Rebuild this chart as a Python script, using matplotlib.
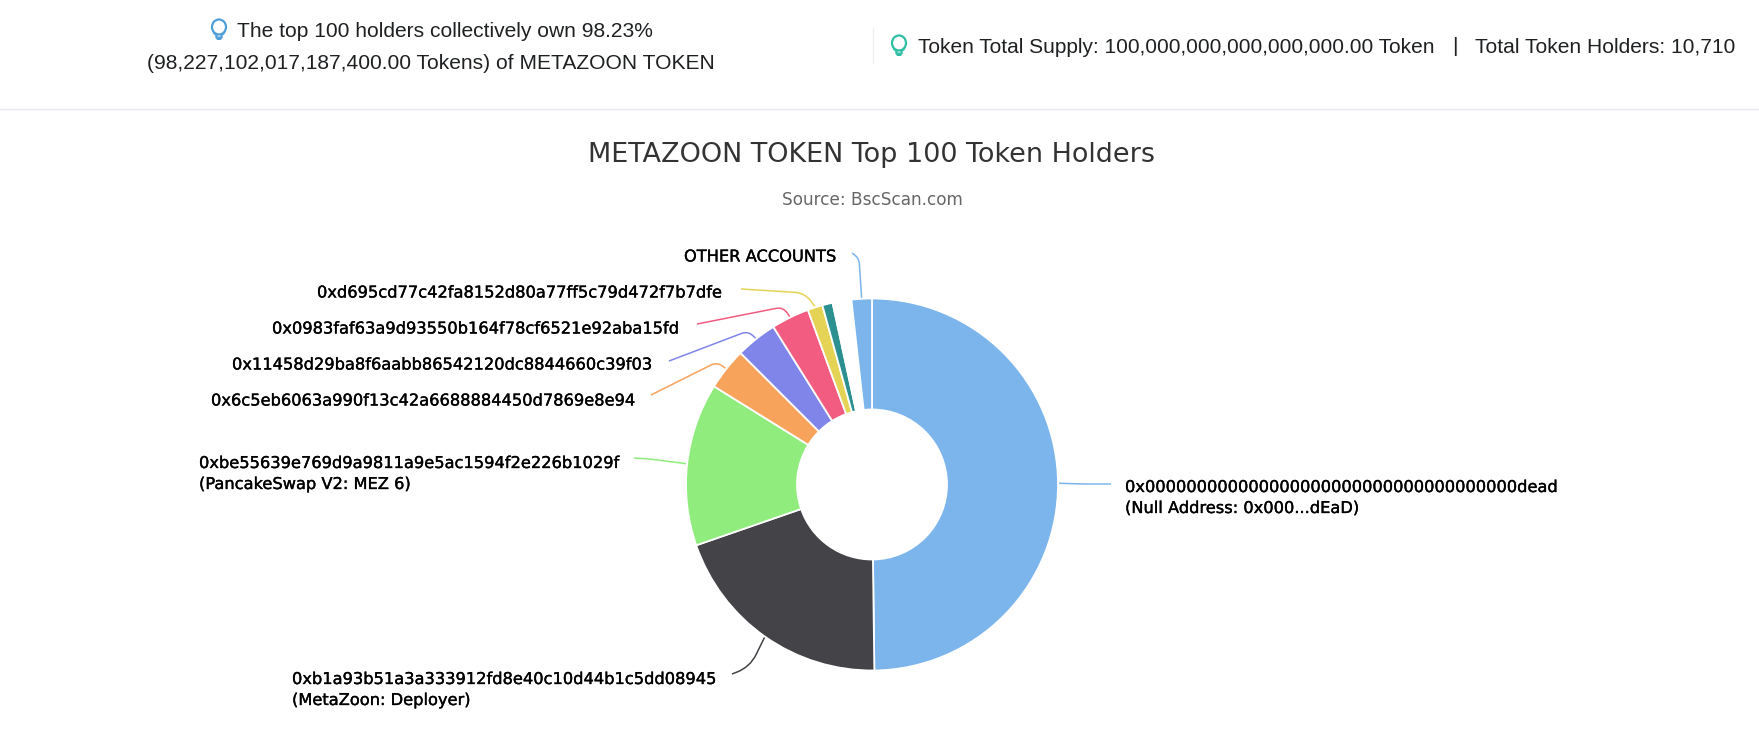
import matplotlib
matplotlib.use('Agg')
import matplotlib.pyplot as plt
import matplotlib.patheffects as pe
from matplotlib.patches import Ellipse, PathPatch, Polygon
from matplotlib.path import Path
import numpy as np

# data
holders = ['0x000000000000000000000000000000000000dead\n(Null Address: 0x000...dEaD)',
           '0xb1a93b51a3a333912fd8e40c10d44b1c5dd08945\n(MetaZoon: Deployer)',
           '0xbe55639e769d9a9811a9e5ac1594f2e226b1029f\n(PancakeSwap V2: MEZ 6)',
           '0x6c5eb6063a990f13c42a6688884450d7869e8e94',
           '0x11458d29ba8f6aabb86542120dc8844660c39f03',
           '0x0983faf63a9d93550b164f78cf6521e92aba15fd',
           '0xd695cd77c42fa8152d80a77ff5c79d472f7b7dfe',
           '', '', '',
           'OTHER ACCOUNTS']
shares = [49.8, 19.9, 14.15, 3.65, 3.6, 3.3, 1.3, 0.9, 0.12, 1.51, 1.77]
colors = ['#7cb5ec', '#434348', '#90ed7d', '#f7a35c', '#8085e9', '#f15c80',
          '#e4d354', '#2b908f', '#f45b5b', '#ffffff', '#7cb5ec']

W, H = 1759, 729
CX, CY, R, R_IN = 872, 484.5, 186, 75

# label placement in pixels: x, y centre, leader end, leader elbow, corner size
label_pos = {0: (1125, 498, (1111, 484), (1085, 484), 5),
             1: (292, 690, (732, 674), (750, 667), 14),
             2: (199, 474, (634, 458), (650, 459), 5),
             3: (211, 401, (651, 395), (717, 362), 7),
             4: (232, 365, (669, 361), (748, 331), 7),
             5: (272, 329, (697, 324), (783, 307), 7),
             6: (317, 293, (741, 289), (805, 293), 10),
             10: (684, 257, (852, 253), (859, 258), 6)}


def py(y):
    return H - y


def leader(start, elbow, end, color, corner):
    # straight run, rounded corner, straight run like the highcharts connector
    s, e, t = [np.array([p[0], py(p[1])], float) for p in (start, elbow, end)]
    a = e + (s - e) * min(1, corner / np.linalg.norm(s - e))
    b = e + (t - e) * min(1, corner / np.linalg.norm(t - e))
    path = Path([s, a, e, b, t],
                [Path.MOVETO, Path.LINETO, Path.CURVE3, Path.CURVE3, Path.LINETO])
    ax.add_patch(PathPatch(path, fc='none', ec=color, lw=1.1, zorder=1))


def bulb(x, y, color):
    ax.add_patch(Ellipse((x, py(y)), 14, 15, fc='none', ec=color, lw=1.6))
    ax.plot([x - 5, x - 2.5, x - 2.5], [py(y + 6), py(y + 8.5), py(y + 10)], color=color, lw=1.4)
    ax.plot([x + 5, x + 2.5, x + 2.5], [py(y + 6), py(y + 8.5), py(y + 10)], color=color, lw=1.4)
    ax.add_patch(Polygon([(x - 4, py(y + 9.5)), (x + 4, py(y + 9.5)), (x + 2, py(y + 13)),
                          (x - 2, py(y + 13))], fc=color, ec='none', zorder=3))


fig = plt.figure(figsize=(W / 100, H / 100), dpi=100)
ax = fig.add_axes([0, 0, 1, 1])

wedges, _ = ax.pie(shares, colors=colors, startangle=90, counterclock=False,
                   center=(CX, py(CY)), radius=R,
                   wedgeprops=dict(width=R - R_IN, edgecolor='white', linewidth=1.3))
ax.set_xlim(0, W)
ax.set_ylim(0, H)
ax.set_aspect('auto')
ax.axis('off')

heavier = [pe.withStroke(linewidth=0.25, foreground='black')]
for i, (x, y, end, elbow, corner) in label_pos.items():
    ang = np.deg2rad((wedges[i].theta1 + wedges[i].theta2) / 2)
    start_on_pie = (CX + (R + 1) * np.cos(ang), CY - (R + 1) * np.sin(ang))
    leader(end, elbow, start_on_pie, colors[i], corner)
    ax.text(x, py(y), holders[i], ha='left', va='center', fontsize=11.7, color='black',
            family='DejaVu Sans', linespacing=1.5, path_effects=heavier)

# titles
ax.text(872, py(155), 'METAZOON TOKEN Top 100 Token Holders', ha='center', va='center',
        fontsize=19.45, color='#333333', family='DejaVu Sans')
ax.text(872, py(200), 'Source: BscScan.com', ha='center', va='center',
        fontsize=12.2, color='#666666', family='DejaVu Sans')

# header strip
ax.plot([0, W], [py(108.5), py(108.5)], color='#e7eaf3', lw=1)
ax.plot([873, 873], [py(28), py(63)], color='#eef0f4', lw=1)
ax.text(237, py(31), 'The top 100 holders collectively own 98.23%', ha='left', va='center',
        fontsize=15.1, color='#1e2022', family='Liberation Sans')
ax.text(431, py(63), '(98,227,102,017,187,400.00 Tokens) of METAZOON TOKEN', ha='center', va='center',
        fontsize=15.1, color='#1e2022', family='Liberation Sans')
ax.text(918, py(47), 'Token Total Supply: 100,000,000,000,000,000.00 Token', ha='left', va='center',
        fontsize=15.05, color='#1e2022', family='Liberation Sans')
ax.text(1455, py(46), '|', ha='center', va='center',
        fontsize=15.1, color='#1e2022', family='Liberation Sans')
ax.text(1475, py(47), 'Total Token Holders: 10,710', ha='left', va='center',
        fontsize=15.1, color='#1e2022', family='Liberation Sans')
bulb(219, 27, '#4f9fd8')
bulb(899, 43, '#2ebfa5')

fig.savefig('out.png', dpi=100)
